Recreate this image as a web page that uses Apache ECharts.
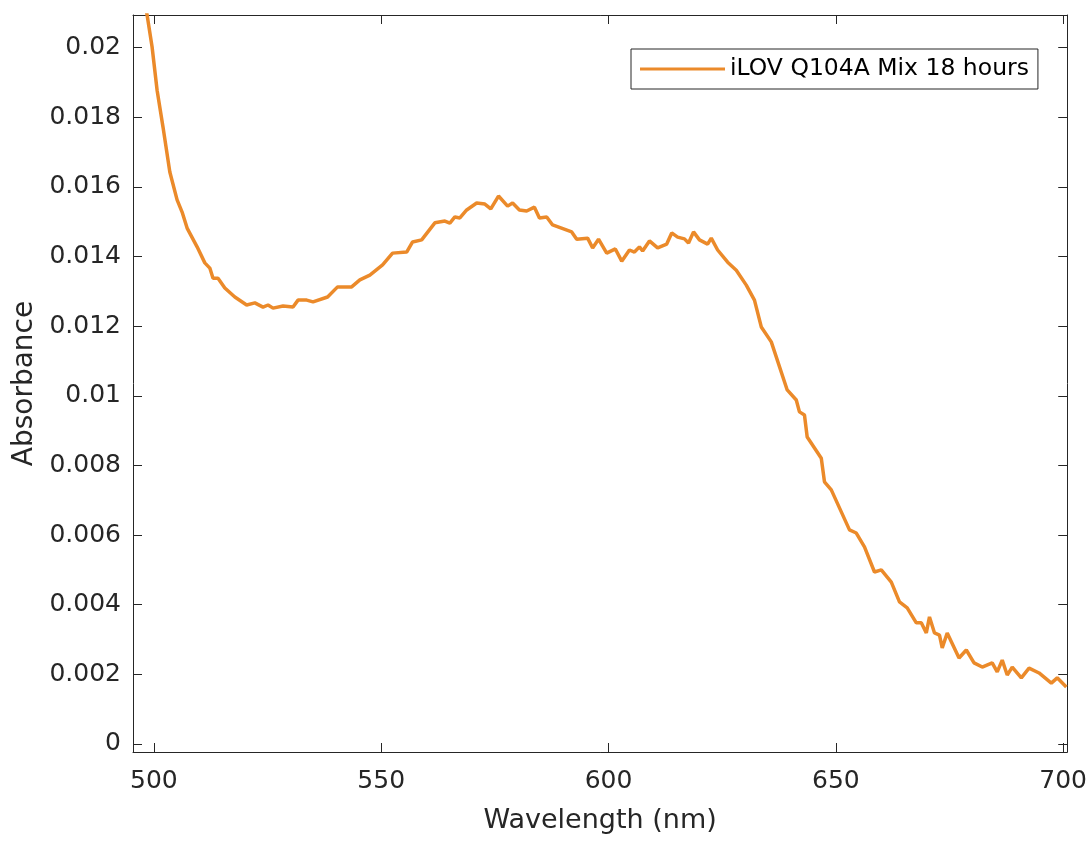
<!DOCTYPE html>
<html>
<head>
<meta charset="utf-8">
<script src="https://cdn.jsdelivr.net/npm/echarts@6/dist/echarts.min.js"></script>
<style>
html,body{margin:0;padding:0;background:#fff;}
#chart{width:1090px;height:842px;}
</style>
</head>
<body>
<div id="chart"></div>
<script>
const seriesName = 'iLOV Q104A Mix 18 hours';
const wavelength = [497.5,498.5,499.6,500.7,502.0,503.5,505.1,506.2,507.3,509.5,511.2,512.3,513.0,514.1,515.6,517.8,520.4,522.2,524.0,525.1,526.2,528.4,530.6,531.7,533.6,535.0,538.2,540.4,543.5,545.3,547.5,550.3,552.5,555.6,556.9,558.9,561.8,564.0,565.1,566.2,567.3,568.8,571.0,572.8,574.1,575.8,577.8,578.9,580.4,582.0,583.7,584.8,586.4,587.7,591.9,593.0,595.4,596.5,597.8,599.6,601.5,602.9,604.6,605.7,606.8,607.5,609.0,610.8,612.8,613.9,615.2,616.7,617.6,618.7,620.0,621.8,622.6,624.0,626.2,628.1,630.3,632.1,633.6,635.8,639.3,641.3,642.0,643.1,643.7,646.8,647.5,649.0,653.0,654.5,656.3,658.5,660.0,662.2,664.0,665.7,667.7,668.8,669.9,670.6,671.7,672.8,673.4,674.5,677.1,678.7,680.4,682.2,684.4,685.5,686.6,687.7,688.8,690.8,692.5,694.7,697.4,698.7,700.7];
const absorbance = [0.02170,0.02094,0.02002,0.01878,0.01772,0.01643,0.01563,0.01528,0.01482,0.01428,0.01382,0.01367,0.01338,0.01338,0.01310,0.01284,0.01261,0.01267,0.01255,0.01261,0.01252,0.01258,0.01255,0.01275,0.01275,0.01270,0.01284,0.01313,0.01313,0.01333,0.01347,0.01376,0.01410,0.01413,0.01442,0.01448,0.01497,0.01502,0.01496,0.01514,0.01511,0.01534,0.01554,0.01551,0.01537,0.01574,0.01545,0.01554,0.01534,0.01531,0.01542,0.01511,0.01514,0.01491,0.01471,0.01450,0.01453,0.01425,0.01450,0.01410,0.01422,0.01387,0.01419,0.01413,0.01428,0.01416,0.01445,0.01425,0.01436,0.01468,0.01456,0.01451,0.01439,0.01471,0.01448,0.01436,0.01453,0.01419,0.01384,0.01361,0.01318,0.01275,0.01198,0.01155,0.01017,0.00988,0.00954,0.00945,0.00882,0.00821,0.00753,0.00730,0.00615,0.00606,0.00566,0.00494,0.00500,0.00465,0.00408,0.00391,0.00348,0.00348,0.00319,0.00365,0.00319,0.00313,0.00276,0.00319,0.00247,0.00270,0.00233,0.00221,0.00233,0.00207,0.00241,0.00198,0.00221,0.00190,0.00218,0.00204,0.00175,0.00190,0.00164];
const xTicks = [500,550,600,650,700];
const yTicks = [0,0.002,0.004,0.006,0.008,0.01,0.012,0.014,0.016,0.018,0.02];
const xRange = [495.4, 700.9];
const yRange = [-0.00023, 0.02094];

const font = 'DejaVu Sans, Liberation Sans, Arial, sans-serif';
const axisColor = '#262626';
const lineColor = '#EB8A2A';

const chart = echarts.init(document.getElementById('chart'), null, {renderer:'canvas'});
const points = wavelength.map((w,i)=>[w, absorbance[i]]);

function xAx(pos, show){
  return {
    type:'value', position:pos, min:xRange[0], max:xRange[1],
    name: show ? 'Wavelength (nm)' : '', nameLocation:'middle', nameGap:55,
    nameTextStyle:{fontFamily:font, fontSize:27, color:axisColor},
    axisLine:{show:true, onZero:false, lineStyle:{color:axisColor, width:1}},
    axisTick:{show:true, inside:true, length:9, customValues:xTicks, lineStyle:{color:axisColor}},
    axisLabel:{show:show, customValues:xTicks, margin:17, fontFamily:font, fontSize:25, color:axisColor,
      formatter:v=>String(v)},
    splitLine:{show:false}
  };
}
function yAx(pos, show){
  return {
    type:'value', position:pos, min:yRange[0], max:yRange[1],
    name: show ? 'Absorbance' : '', nameLocation:'middle', nameGap:89, nameRotate:90,
    nameTextStyle:{fontFamily:font, fontSize:28, color:axisColor},
    axisLine:{show:true, onZero:false, lineStyle:{color:axisColor, width:1}},
    axisTick:{show:true, inside:true, length:9, customValues:yTicks, lineStyle:{color:axisColor}},
    axisLabel:{show:show, customValues:yTicks, margin:12, fontFamily:font, fontSize:25, color:axisColor,
      formatter:v=>String(parseFloat(v.toFixed(4)))},
    splitLine:{show:false}
  };
}

chart.setOption({
  backgroundColor:'#fff',
  animation:false,
  grid:{left:133, right:22, top:15, bottom:90, containLabel:false},
  xAxis:[xAx('bottom', true), xAx('top', false)],
  yAxis:[yAx('left', true), yAx('right', false)],
  legend:{
    left:631, top:49, orient:'horizontal',
    padding:[8,9,8,9], itemWidth:85, itemHeight:3, itemGap:5,
    icon:'rect',
    borderColor:axisColor, borderWidth:1, backgroundColor:'#fff',
    textStyle:{fontFamily:font, fontSize:23.5, color:'#000'},
    data:[seriesName]
  },
  series:[{
    name:seriesName, type:'line', xAxisIndex:0, yAxisIndex:0,
    data:points, showSymbol:false, symbol:'none', smooth:false,
    lineStyle:{color:lineColor, width:3.5}, itemStyle:{color:lineColor},
    clip:true
  }]
});
</script>
</body>
</html>
